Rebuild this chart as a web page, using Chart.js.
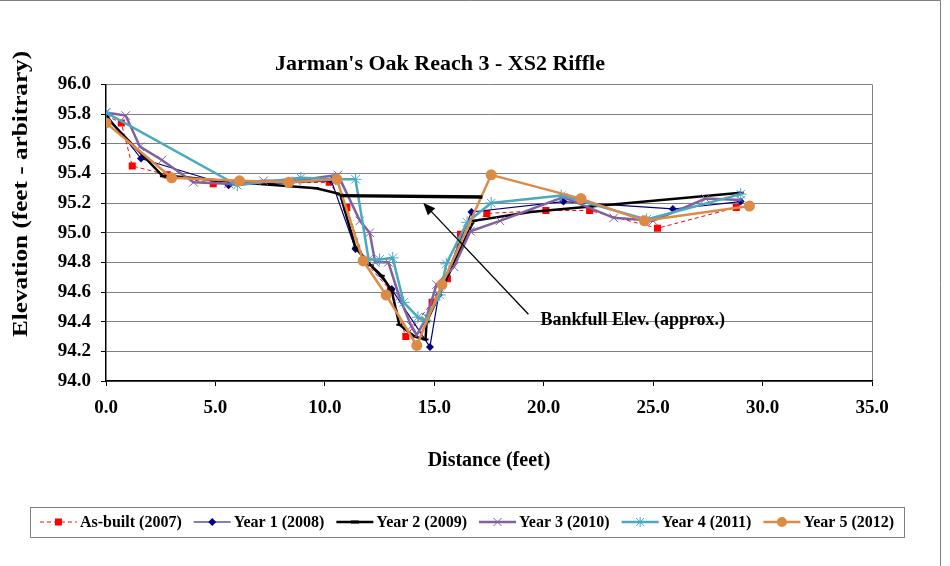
<!DOCTYPE html>
<html>
<head>
<meta charset="utf-8">
<script src="https://cdn.jsdelivr.net/npm/chart.js@4.4.1/dist/chart.umd.min.js"></script>
<style>
html, body { margin: 0; padding: 0; background: #fff; }
canvas { display: block; }
</style>
</head>
<body>
<canvas id="myChart" width="950" height="566"></canvas>
<script>
// distance (feet) / elevation (feet) per survey
const asBuiltX = [0, 0.7, 1.2, 2.8, 4.9, 10.2, 11.0, 11.8, 13.0, 13.7, 14.9, 15.6, 16.2, 17.4, 20.1, 22.1, 25.2, 28.8];
const asBuiltY = [95.79, 95.74, 95.45, 95.39, 95.33, 95.34, 95.17, 94.81, 94.61, 94.30, 94.53, 94.69, 94.99, 95.13, 95.15, 95.15, 95.03, 95.17];

const year1X = [0, 1.6, 5.6, 10.3, 11.4, 13.05, 14.8, 15.2, 16.7, 20.9, 25.9, 29.0];
const year1Y = [95.80, 95.50, 95.32, 95.35, 94.89, 94.62, 94.23, 94.58, 95.14, 95.21, 95.16, 95.21];

const year2X = [0, 2.6, 3.1, 6.0, 9.6, 10.7, 11.4, 12.1, 12.6, 13.05, 13.4, 14.1, 14.6, 14.65, 16.8, 19.4, 29.0];
const year2Y = [95.78, 95.38, 95.38, 95.34, 95.30, 95.26, 94.90, 94.78, 94.71, 94.61, 94.38, 94.30, 94.28, 94.40, 95.08, 95.14, 95.27];

const year3X = [0, 0.9, 1.55, 2.55, 4.0, 5.6, 7.2, 8.7, 10.6, 11.6, 12.05, 12.3, 12.9, 13.4, 13.95, 14.2, 14.65, 15.1, 15.9, 16.65, 18.0, 20.9, 23.2, 25.0, 27.4, 29.0];
const year3Y = [95.81, 95.79, 95.58, 95.49, 95.34, 95.33, 95.35, 95.35, 95.39, 95.08, 95.00, 94.80, 94.80, 94.57, 94.37, 94.31, 94.43, 94.65, 94.77, 95.01, 95.08, 95.24, 95.10, 95.08, 95.23, 95.22];

const year4X = [0, 6.0, 8.9, 10.5, 11.4, 12.0, 12.5, 13.1, 13.6, 14.25, 14.6, 15.25, 15.55, 16.5, 17.6, 20.8, 24.7, 29.0];
const year4Y = [95.81, 95.32, 95.37, 95.36, 95.36, 94.82, 94.82, 94.83, 94.53, 94.43, 94.41, 94.58, 94.79, 95.07, 95.20, 95.25, 95.09, 95.26];

const year5X = [0, 3.0, 6.1, 8.35, 10.55, 11.75, 12.8, 14.2, 15.35, 17.6, 21.7, 24.6, 29.4];
const year5Y = [95.74, 95.37, 95.35, 95.34, 95.36, 94.81, 94.58, 94.24, 94.65, 95.39, 95.23, 95.08, 95.18];

// bankfull elevation line and its callout
const bankfullX = [10.7, 17.2];
const bankfullY = [95.25, 95.24];
const calloutTail = [19.3, 94.45];
const calloutHead = [14.5, 95.20];
const calloutText = 'Bankfull Elev. (approx.)';

const seriesLabels = ['As-built (2007)', 'Year 1 (2008)', 'Year 2 (2009)', 'Year 3 (2010)', 'Year 4 (2011)', 'Year 5 (2012)'];
const yTicks = [94.0, 94.2, 94.4, 94.6, 94.8, 95.0, 95.2, 95.4, 95.6, 95.8, 96.0];
const xTicks = [0, 5, 10, 15, 20, 25, 30, 35];
const yTitle = 'Elevation (feet - arbitrary)';

const FONT = '"Liberation Serif", "Times New Roman", serif';
Chart.defaults.font.family = FONT;
Chart.defaults.color = '#000';

const toPoints = (xs, ys) => xs.map((x, i) => ({ x: x, y: ys[i] }));

function drawMarker(ctx, style, x, y, color) {
    ctx.save();
    ctx.fillStyle = color;
    ctx.strokeStyle = color;
    ctx.setLineDash([]);
    ctx.beginPath();
    if (style === 'rect') {
        ctx.fillRect(x - 3.5, y - 3.5, 7, 7);
    } else if (style === 'rectRot') {
        ctx.moveTo(x, y - 4); ctx.lineTo(x + 4, y); ctx.lineTo(x, y + 4); ctx.lineTo(x - 4, y);
        ctx.closePath(); ctx.fill();
    } else if (style === 'line') {
        ctx.lineWidth = 3;
        ctx.moveTo(x - 4, y); ctx.lineTo(x + 4, y); ctx.stroke();
    } else if (style === 'crossRot') {
        ctx.lineWidth = 1;
        ctx.moveTo(x - 4, y - 4); ctx.lineTo(x + 4, y + 4);
        ctx.moveTo(x + 4, y - 4); ctx.lineTo(x - 4, y + 4); ctx.stroke();
    } else if (style === 'star') {
        ctx.lineWidth = 1;
        ctx.moveTo(x - 4, y - 4); ctx.lineTo(x + 4, y + 4);
        ctx.moveTo(x + 4, y - 4); ctx.lineTo(x - 4, y + 4);
        ctx.moveTo(x, y - 5); ctx.lineTo(x, y + 5); ctx.stroke();
    } else {
        ctx.arc(x, y, 5, 0, Math.PI * 2); ctx.fill();
    }
    ctx.restore();
}

// legend in a box under the axis title, plus the y title and outer frame
const boxedLegend = {
    id: 'boxedLegend',
    afterDraw(chart) {
        const ctx = chart.ctx;
        const sets = chart.data.datasets.filter(d => !d.noLegend);
        ctx.save();
        ctx.font = 'bold 16px ' + FONT;
        const sample = 37, gap = 3, spacing = 12, pad = 10;
        const widths = sets.map(d => sample + gap + ctx.measureText(d.label).width);
        const total = widths.reduce((a, b) => a + b, 0) + spacing * (sets.length - 1);
        const cx = 467, cy = 522;
        let x = cx - total / 2;
        ctx.strokeStyle = '#7f7f7f';
        ctx.lineWidth = 1;
        ctx.strokeRect(Math.round(x - pad) + 0.5, 507.5, Math.round(total + pad * 2), 30);
        ctx.textBaseline = 'middle';
        sets.forEach((d, i) => {
            ctx.save();
            ctx.strokeStyle = d.borderColor;
            ctx.lineWidth = d.borderWidth;
            ctx.setLineDash(d.borderDash || []);
            ctx.beginPath();
            ctx.moveTo(x, cy); ctx.lineTo(x + sample, cy); ctx.stroke();
            ctx.restore();
            drawMarker(ctx, d.pointStyle, x + sample / 2, cy, d.pointBackgroundColor || d.borderColor);
            ctx.fillStyle = '#000';
            ctx.fillText(d.label, x + sample + gap, cy + 1);
            x += widths[i] + spacing;
        });

        // y axis title, stretched along its length like the original
        ctx.save();
        ctx.translate(22, 194);
        ctx.rotate(-Math.PI / 2);
        ctx.scale(1.26, 1);
        ctx.font = 'bold 20px ' + FONT;
        ctx.textAlign = 'center';
        ctx.textBaseline = 'middle';
        ctx.fillStyle = '#000';
        ctx.fillText(yTitle, 0, 0);
        ctx.restore();

        // outer chart frame (top and right edges visible)
        ctx.strokeStyle = '#808080';
        ctx.beginPath();
        ctx.moveTo(0, 0.5); ctx.lineTo(940.5, 0.5); ctx.lineTo(940.5, 566);
        ctx.stroke();
        ctx.restore();
    }
};

// arrow + text pointing at the bankfull line
const bankfullCallout = {
    id: 'bankfullCallout',
    afterDatasetsDraw(chart) {
        const { ctx, scales: { x, y } } = chart;
        const x1 = x.getPixelForValue(calloutTail[0]), y1 = y.getPixelForValue(calloutTail[1]);
        const x2 = x.getPixelForValue(calloutHead[0]), y2 = y.getPixelForValue(calloutHead[1]);
        const ang = Math.atan2(y2 - y1, x2 - x1);
        ctx.save();
        ctx.strokeStyle = '#000';
        ctx.fillStyle = '#000';
        ctx.lineWidth = 1.3;
        ctx.beginPath();
        ctx.moveTo(x1, y1);
        ctx.lineTo(x2 - 8 * Math.cos(ang), y2 - 8 * Math.sin(ang));
        ctx.stroke();
        ctx.beginPath();
        ctx.moveTo(x2, y2);
        ctx.lineTo(x2 - 12 * Math.cos(ang) + 5 * Math.sin(ang), y2 - 12 * Math.sin(ang) - 5 * Math.cos(ang));
        ctx.lineTo(x2 - 12 * Math.cos(ang) - 5 * Math.sin(ang), y2 - 12 * Math.sin(ang) + 5 * Math.cos(ang));
        ctx.closePath();
        ctx.fill();
        ctx.font = 'bold 18px ' + FONT;
        ctx.textBaseline = 'middle';
        ctx.fillText(calloutText, x1 + 12, y1 + 6);
        ctx.restore();
    }
};

const ctx = document.getElementById('myChart').getContext('2d');

const myChart = new Chart(ctx, {
    type: 'scatter',
    data: {
        datasets: [
            {
                label: seriesLabels[0],
                data: toPoints(asBuiltX, asBuiltY),
                showLine: true,
                borderColor: '#ff0000',
                borderWidth: 1,
                borderDash: [4, 3],
                pointStyle: 'rect',
                pointRadius: 5,
                pointBackgroundColor: '#ff0000',
                pointBorderWidth: 0,
                order: 6
            },
            {
                label: seriesLabels[1],
                data: toPoints(year1X, year1Y),
                showLine: true,
                borderColor: '#000080',
                borderWidth: 1.2,
                pointStyle: 'rectRot',
                pointRadius: 4,
                pointBackgroundColor: '#000080',
                pointBorderWidth: 0,
                order: 5
            },
            {
                label: seriesLabels[2],
                data: toPoints(year2X, year2Y),
                showLine: true,
                borderColor: '#000000',
                borderWidth: 2.5,
                pointStyle: 'line',
                pointRadius: 3,
                pointBorderWidth: 2,
                order: 4
            },
            {
                label: seriesLabels[3],
                data: toPoints(year3X, year3Y),
                showLine: true,
                borderColor: '#7f60a0',
                borderWidth: 2.5,
                pointStyle: 'crossRot',
                pointRadius: 6,
                pointBorderWidth: 1,
                order: 3
            },
            {
                label: seriesLabels[4],
                data: toPoints(year4X, year4Y),
                showLine: true,
                borderColor: '#4aa8c0',
                borderWidth: 2.5,
                pointStyle: 'star',
                pointRadius: 6,
                pointBorderWidth: 1,
                order: 2
            },
            {
                label: seriesLabels[5],
                data: toPoints(year5X, year5Y),
                showLine: true,
                borderColor: '#dc8b47',
                borderWidth: 2.5,
                pointStyle: 'circle',
                pointRadius: 5.5,
                pointBackgroundColor: '#dc8b47',
                pointBorderWidth: 0,
                order: 1
            },
            {
                label: 'Bankfull',
                noLegend: true,
                data: toPoints(bankfullX, bankfullY),
                showLine: true,
                borderColor: '#000000',
                borderWidth: 3.5,
                pointRadius: 0,
                order: 0
            }
        ]
    },
    options: {
        responsive: false,
        animation: false,
        layout: {
            padding: { left: 8, right: 78, top: 0, bottom: 85 }
        },
        scales: {
            x: {
                type: 'linear',
                min: 0,
                max: 35,
                afterFit: s => { s.height = 100; },
                afterBuildTicks: s => { s.ticks = xTicks.map(v => ({ value: v })); },
                ticks: {
                    font: { size: 19, weight: 'bold' },
                    padding: 11,
                    callback: v => v.toFixed(1)
                },
                grid: {
                    color: c => c.index === xTicks.length - 1 ? '#808080' : 'rgba(0,0,0,0)',
                    tickColor: '#000',
                    tickLength: 5
                },
                border: { color: '#000', width: 1.5 },
                title: {
                    display: true,
                    text: 'Distance (feet)',
                    font: { size: 20, weight: 'bold' },
                    padding: { bottom: 8 }
                }
            },
            y: {
                min: 94,
                max: 96,
                afterFit: s => { s.width = 98; },
                afterBuildTicks: s => { s.ticks = yTicks.map(v => ({ value: v })); },
                ticks: {
                    font: { size: 19, weight: 'bold' },
                    padding: 10,
                    callback: v => v.toFixed(1)
                },
                grid: {
                    color: '#808080',
                    tickColor: '#000',
                    tickLength: 5
                },
                border: { color: '#000', width: 1.5 }
            }
        },
        plugins: {
            legend: { display: false },
            tooltip: { enabled: false },
            title: {
                display: true,
                text: "Jarman's Oak Reach 3 - XS2 Riffle",
                font: { size: 22, weight: 'bold' },
                padding: { top: 51, bottom: 7 }
            }
        }
    },
    plugins: [bankfullCallout, boxedLegend]
});
</script>
</body>
</html>
